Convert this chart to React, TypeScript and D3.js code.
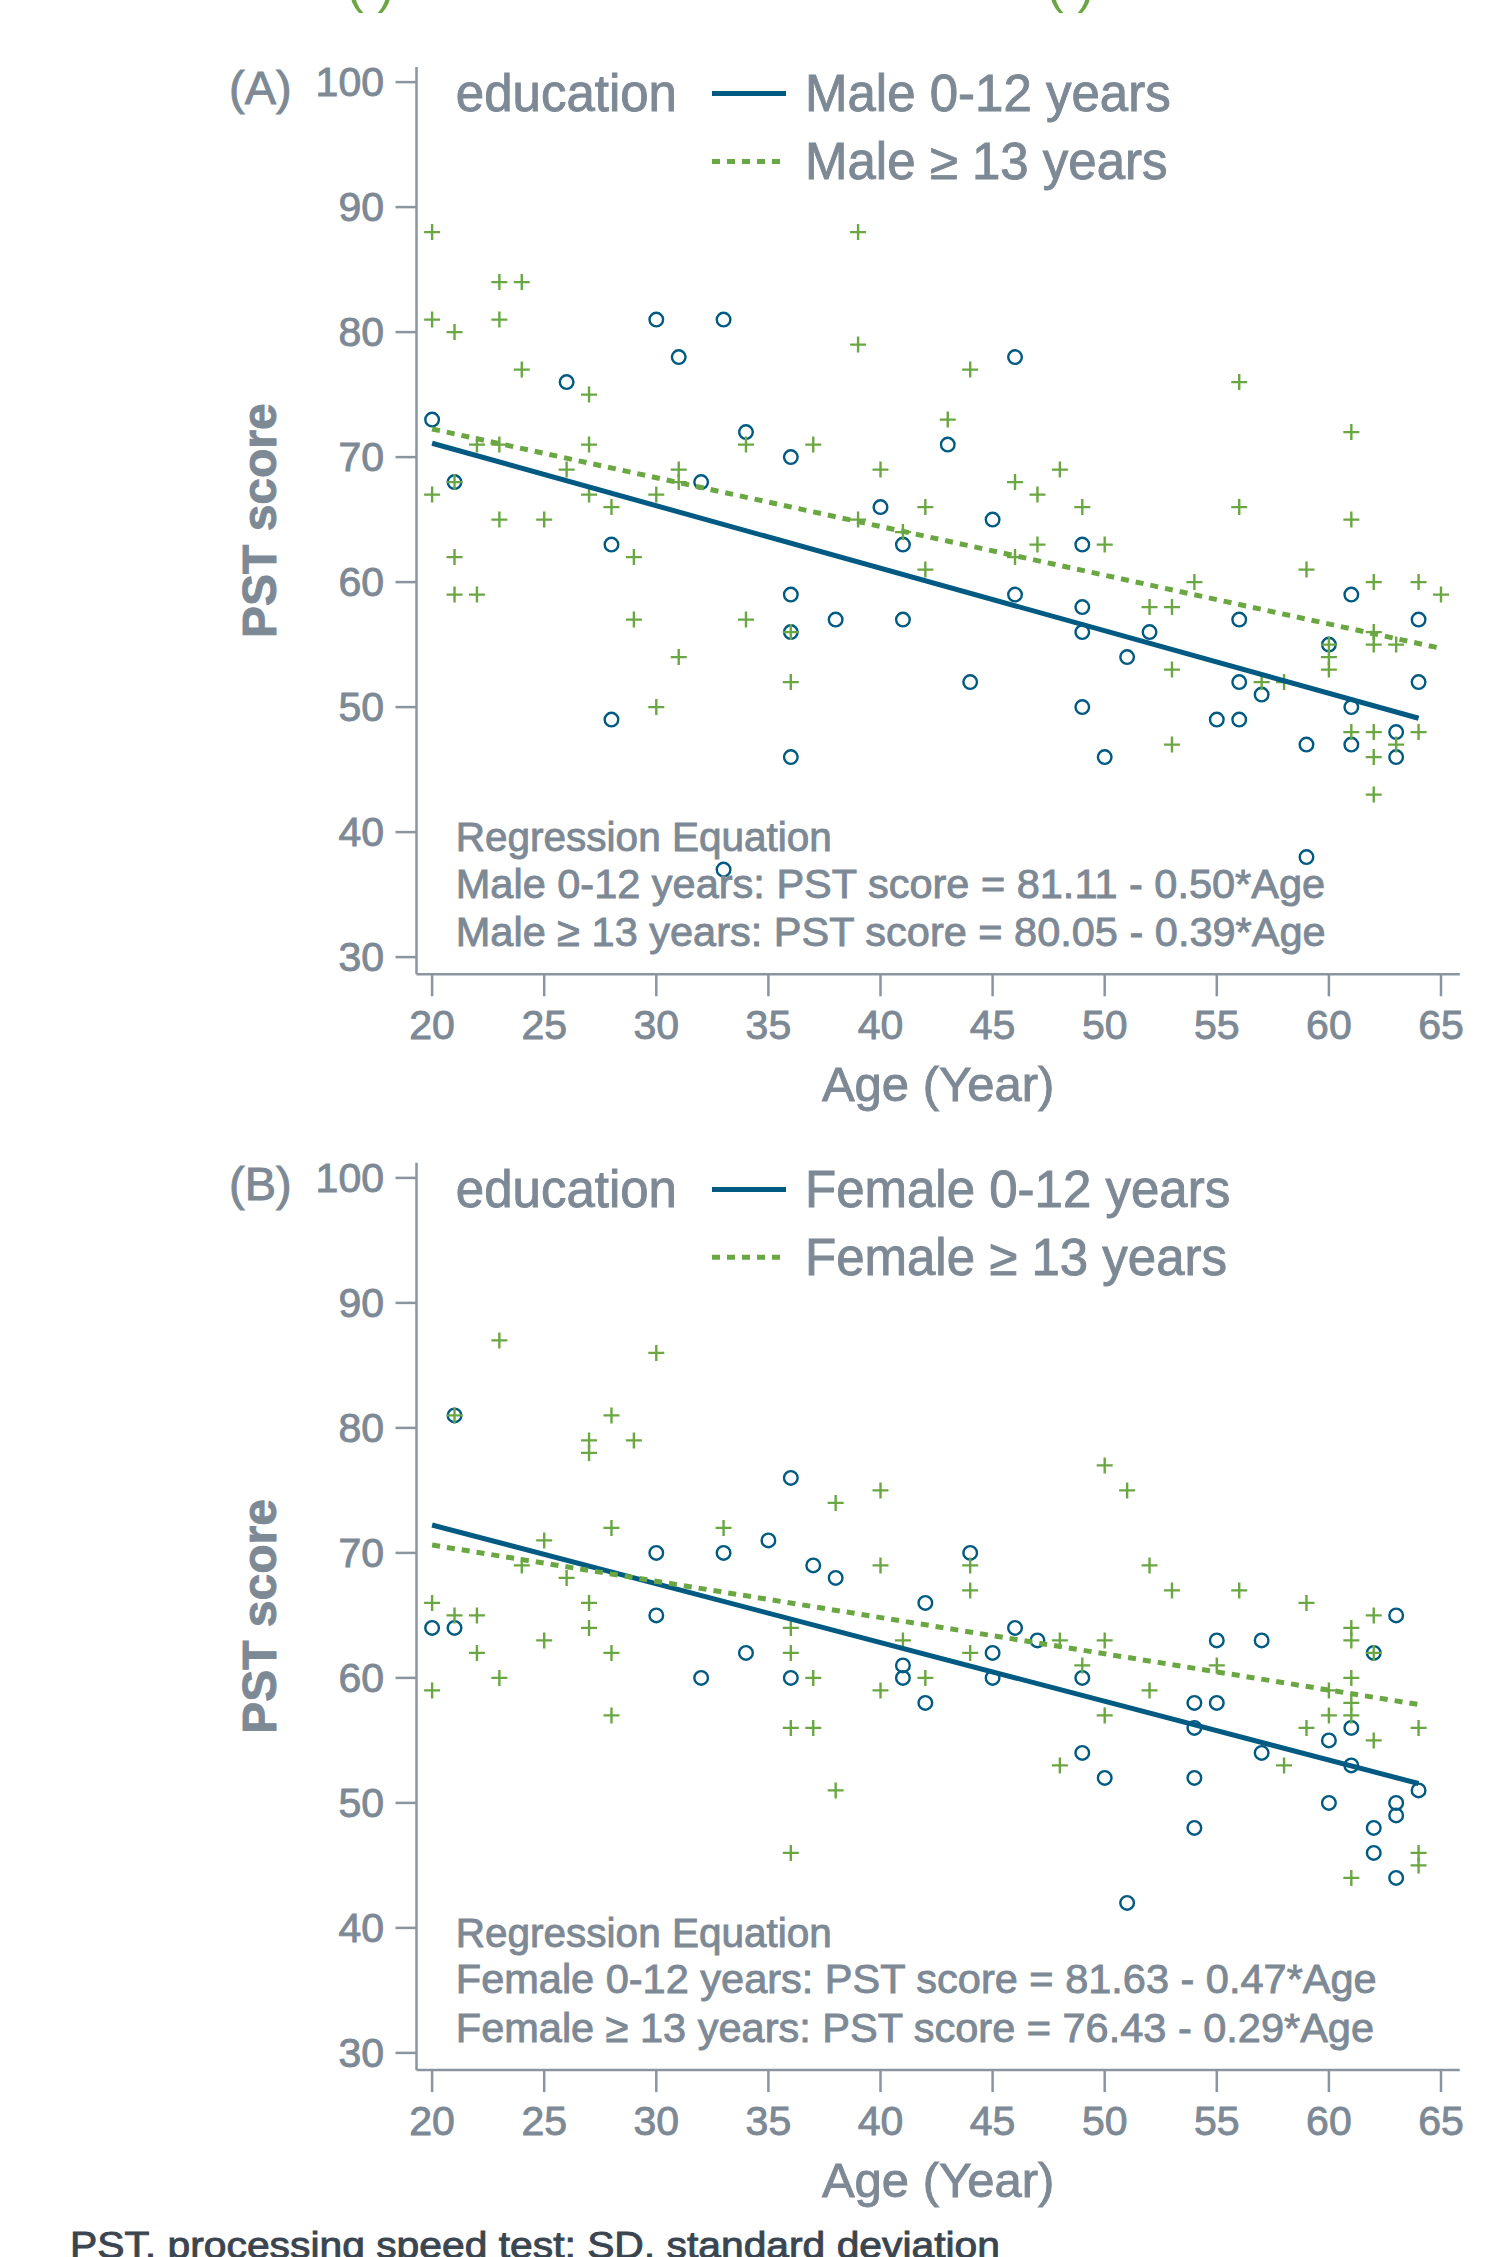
import React from 'react';
import * as d3 from 'd3';

// PST score vs age, by education, two panels (male / female)

const ageTicks = [20, 25, 30, 35, 40, 45, 50, 55, 60, 65];
const scoreTicks = [30, 40, 50, 60, 70, 80, 90, 100];

// [age, PST score]
const maleLow = [
  [20, 73], [21, 68], [26, 76], [28, 63], [28, 49], [30, 81], [31, 78], [32, 68], [33, 81], [33, 37],
  [34, 72], [36, 70], [36, 59], [36, 56], [36, 46], [38, 57], [40, 66], [41, 63], [41, 57], [43, 71],
  [44, 52], [45, 65], [46, 78], [46, 59], [49, 63], [49, 58], [49, 56], [49, 50], [50, 46], [51, 54],
  [52, 56], [55, 49], [56, 57], [56, 52], [56, 49], [57, 51], [59, 47], [59, 38], [60, 55], [61, 59],
  [61, 50], [61, 47], [63, 48], [63, 46], [64, 57], [64, 52],
];
const maleHigh = [
  [20, 88], [20, 81], [20, 67], [21, 80], [21, 68], [21, 62], [21, 59], [22, 71], [22, 59], [23, 84],
  [23, 81], [23, 71], [23, 65], [24, 84], [24, 77], [25, 65], [26, 69], [27, 75], [27, 71], [27, 67],
  [28, 66], [29, 62], [29, 57], [30, 67], [30, 50], [31, 69], [31, 68], [31, 54], [34, 71], [34, 57],
  [36, 56], [36, 52], [37, 71], [39, 88], [39, 79], [39, 65], [40, 69], [41, 64], [42, 66], [42, 61],
  [43, 73], [44, 77], [46, 68], [46, 62], [47, 67], [47, 63], [48, 69], [49, 66], [50, 63], [52, 58],
  [53, 58], [53, 53], [53, 47], [54, 60], [56, 76], [56, 66], [57, 52], [58, 52], [59, 61], [60, 55],
  [60, 54], [60, 53], [61, 72], [61, 65], [61, 48], [62, 60], [62, 56], [62, 55], [62, 48], [62, 46],
  [62, 43], [63, 55], [63, 47], [64, 60], [64, 48], [65, 59],
];
const femaleLow = [
  [20, 64], [21, 64], [21, 81], [30, 70], [30, 65], [32, 60], [33, 70], [34, 62], [35, 71], [36, 76],
  [36, 60], [37, 69], [38, 68], [41, 61], [41, 60], [42, 66], [42, 58], [44, 70], [45, 62], [45, 60],
  [46, 64], [47, 63], [49, 60], [49, 54], [50, 52], [51, 42], [54, 58], [54, 56], [54, 52], [54, 48],
  [55, 63], [55, 58], [57, 63], [57, 54], [60, 55], [60, 50], [61, 56], [61, 53], [62, 62], [62, 48],
  [62, 46], [63, 65], [63, 50], [63, 49], [63, 44], [64, 51],
];
const femaleHigh = [
  [20, 66], [20, 59], [21, 81], [21, 65], [22, 65], [22, 62], [23, 87], [23, 60], [24, 69], [25, 71],
  [25, 63], [26, 68], [27, 79], [27, 78], [27, 66], [27, 64], [28, 81], [28, 72], [28, 62], [28, 57],
  [29, 79], [30, 86], [33, 72], [36, 64], [36, 62], [36, 56], [36, 46], [37, 60], [37, 56], [38, 74],
  [38, 51], [40, 75], [40, 69], [40, 59], [41, 63], [42, 60], [44, 69], [44, 67], [44, 62], [48, 63],
  [48, 53], [49, 61], [50, 77], [50, 63], [50, 57], [51, 75], [52, 69], [52, 59], [53, 67], [55, 61],
  [56, 67], [58, 53], [59, 66], [59, 56], [60, 59], [60, 57], [61, 64], [61, 63], [61, 60], [61, 58],
  [61, 57], [61, 44], [62, 65], [62, 62], [62, 55], [64, 56], [64, 46], [64, 45],
];

// intercept, slope
const maleLowFit = [81.11, -0.5];
const maleHighFit = [80.05, -0.39];
const femaleLowFit = [81.63, -0.47];
const femaleHighFit = [76.43, -0.29];

const FONT = '"Liberation Sans", Arial, sans-serif';
const GRAY = '#7d8995';
const AXIS = '#8a95a0';
const BLUE = '#005a82';
const GREEN = '#6aa743';

const x = d3.scaleLinear().domain([20, 65]).range([432.1, 1441]);

const fitLine = (pts, fit, y) => {
  let ext = d3.extent(pts, (d) => d[0]);
  return d3.line().x((a) => x(a)).y((a) => y(fit[0] + fit[1] * a))(ext);
};

const eq = (fit) => `PST score = ${fit[0].toFixed(2)} - ${Math.abs(fit[1]).toFixed(2)}*Age`;

// gray text, thickened a little with a stroke to look like a medium weight
const T = (props) => <text fill={GRAY} stroke={GRAY} strokeWidth={0.9} {...props} />;

const Panel = ({ label, sex, low, high, lowFit, highFit, dy }) => {
  let y = d3.scaleLinear().domain([30, 100]).range([957.1 + dy, 82.1 + dy]);
  let left = 416.5;
  let bottom = 974.3 + dy;
  let top = 67 + dy;
  let right = 1459.8;

  return (
    <g fontFamily={FONT}>
      {/* axes */}
      <line x1={left} x2={left} y1={top} y2={bottom} stroke={AXIS} strokeWidth={2.5} />
      <line x1={left} x2={right} y1={bottom} y2={bottom} stroke={AXIS} strokeWidth={2.5} />
      {scoreTicks.map((t) => (
        <g key={'y' + t}>
          <line x1={left - 21} x2={left} y1={y(t)} y2={y(t)} stroke={AXIS} strokeWidth={2.5} />
          <T x={384} y={y(t) + 14} textAnchor="end" fontSize={41}>{t}</T>
        </g>
      ))}
      {ageTicks.map((t) => (
        <g key={'x' + t}>
          <line x1={x(t)} x2={x(t)} y1={bottom} y2={bottom + 22} stroke={AXIS} strokeWidth={2.5} />
          <T x={x(t)} y={bottom + 65} textAnchor="middle" fontSize={41}>{t}</T>
        </g>
      ))}
      <T x={229} y={104 + dy} fontSize={47}>{label}</T>
      <T transform={`translate(276,${(top + bottom) / 2}) rotate(-90)`} textAnchor="middle"
        fontSize={48} fontWeight="bold">PST score</T>
      <T x={(left + right) / 2} y={bottom + 127} textAnchor="middle" fontSize={49}>Age (Year)</T>

      {/* points */}
      {low.map((d, i) => (
        <circle key={'c' + i} cx={x(d[0])} cy={y(d[1])} r={6.8} fill="none" stroke={BLUE} strokeWidth={2.4} />
      ))}
      {high.map((d, i) => (
        <path key={'p' + i} d={`M${x(d[0]) - 8},${y(d[1])}h16M${x(d[0])},${y(d[1]) - 8}v16`}
          stroke={GREEN} strokeWidth={2.4} fill="none" />
      ))}

      {/* fitted lines */}
      <path d={fitLine(low, lowFit, y)} stroke={BLUE} strokeWidth={5} fill="none" />
      <path d={fitLine(high, highFit, y)} stroke={GREEN} strokeWidth={5} strokeDasharray="8 7" fill="none" />

      {/* legend */}
      <T x={455.8} y={111.4 + dy} fontSize={51}>education</T>
      <line x1={712} x2={786} y1={93.6 + dy} y2={93.6 + dy} stroke={BLUE} strokeWidth={5} />
      <line x1={712} x2={786} y1={161.4 + dy} y2={161.4 + dy} stroke={GREEN} strokeWidth={5} strokeDasharray="8 7" />
      <T x={805} y={111.4 + dy} fontSize={51}>{sex} 0-12 years</T>
      <T x={805} y={179.3 + dy} fontSize={51}>{sex} ≥ 13 years</T>

      {/* regression equations */}
      <T x={455.8} y={851 + dy} fontSize={40.5}>Regression Equation</T>
      <T x={455.8} y={897.5 + dy} fontSize={41.5}>{sex} 0-12 years: {eq(lowFit)}</T>
      <T x={455.8} y={945.7 + dy} fontSize={41.5}>{sex} ≥ 13 years: {eq(highFit)}</T>
    </g>
  );
};

const App = () => {
  return (
    <svg width={1503} height={2257} style={{ position: 'absolute', left: 0, top: 0, background: '#fff' }}>
      <rect width={1503} height={2257} fill="#fff" />
      {/* bottoms of the previous figure's labels, cut at the top edge */}
      <text x={347} y={3} fontSize={50} fontFamily={FONT} fill={GREEN}>(  )</text>
      <text x={1047} y={3} fontSize={50} fontFamily={FONT} fill={GREEN}>(  )</text>

      <Panel label="(A)" sex="Male" low={maleLow} high={maleHigh} lowFit={maleLowFit} highFit={maleHighFit} dy={0} />
      <Panel label="(B)" sex="Female" low={femaleLow} high={femaleHigh} lowFit={femaleLowFit} highFit={femaleHighFit} dy={1095.8} />

      <text x={70} y={2258} fontSize={37} fontFamily={FONT} fill="#3a4550" stroke="#3a4550" strokeWidth={0.9}
        textLength={930} lengthAdjust="spacingAndGlyphs">PST, processing speed test; SD, standard deviation</text>
    </svg>
  );
};

export default App;
